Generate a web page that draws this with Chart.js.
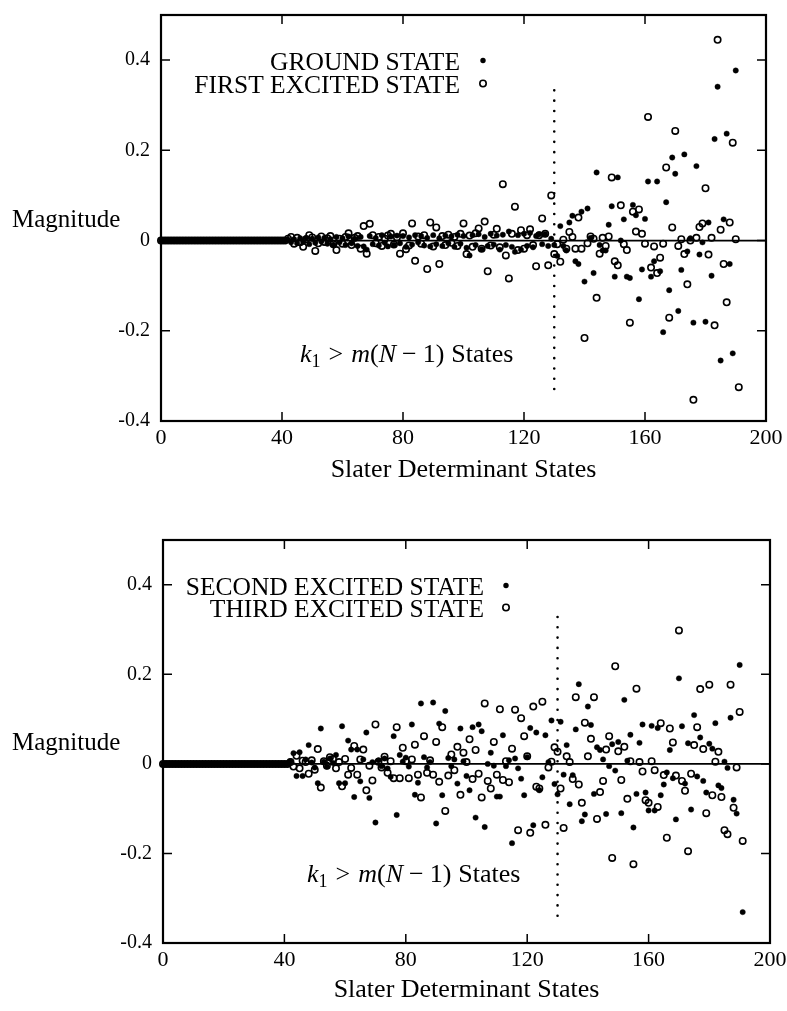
<!DOCTYPE html>
<html><head><meta charset="utf-8">
<script src="https://cdn.jsdelivr.net/npm/chart.js@4"></script>
<style>
html,body{margin:0;padding:0;background:#fff;}
canvas{position:absolute;left:0;}
#c1{top:0;}
#c2{top:505px;}
</style></head><body>
<canvas id="c1" width="787" height="505"></canvas>
<canvas id="c2" width="787" height="506"></canvas>
<script>
// ---------- DATA ----------
const xTicks = [0, 40, 80, 120, 160, 200];
const yTicks = [-0.4, -0.2, 0, 0.2, 0.4];
const xTitle = 'Slater Determinant States';
const yTitle = 'Magnitude';
const topLegend = ['GROUND STATE', 'FIRST EXCITED STATE'];
const bottomLegend = ['SECOND EXCITED STATE', 'THIRD EXCITED STATE'];
const cutoffState = [130, 130];
const cutoffRangeTop = [0.333, -0.347];
const cutoffRangeBottom = [0.328, -0.345];

// states 0..41: all amplitudes zero
const leadStates = [0,1,2,3,4,5,6,7,8,9,10,11,12,13,14,15,16,17,18,19,20,21,22,23,24,25,26,27,28,29,30,31,32,33,34,35,36,37,38,39,40,41];
const leadValues = [0,0,0,0,0,0,0,0,0,0,0,0,0,0,0,0,0,0,0,0,0,0,0,0,0,0,0,0,0,0,0,0,0,0,0,0,0,0,0,0,0,0];

const groundState = [[42,0.002],[43,-0.004],[44,0.003],[45,-0.006],[46,0.005],[47,-0.003],[48,0.006],[49,-0.008],[50,0.004],[51,-0.005],[52,0.007],[53,-0.002],[54,0.006],[55,-0.007],[56,0.003],[57,-0.009],[58,0.008],[59,-0.004],[60,0.005],[61,-0.010],[62,0.009],[63,-0.006],[64,0.004],[65,-0.012],[66,0.008],[67,-0.013],[68,-0.020],[69,0.010],[70,-0.008],[71,0.006],[72,-0.011],[73,0.012],[74,-0.005],[75,-0.013],[76,0.009],[77,-0.010],[78,0.011],[79,-0.006],[80,0.010],[81,-0.014],[82,0.007],[83,-0.009],[84,0.012],[85,-0.004],[86,0.010],[87,-0.011],[88,0.006],[89,-0.013],[90,0.012],[91,-0.008],[92,0.005],[93,-0.012],[94,0.011],[95,-0.006],[96,0.009],[97,-0.014],[98,0.013],[99,-0.007],[100,0.010],[101,-0.016],[102,-0.033],[103,0.012],[104,-0.010],[105,0.014],[106,-0.019],[107,0.008],[108,-0.012],[109,0.015],[110,-0.009],[111,0.011],[112,-0.020],[113,0.013],[114,-0.010],[115,0.020],[116,-0.014],[117,-0.025],[118,0.012],[119,-0.020],[120,0.015],[121,-0.012],[122,0.017],[123,-0.015],[124,0.010],[125,0.014],[126,-0.008],[127,0.014],[128,-0.012],[129,0.004],[130,-0.010],[131,-0.034],[132,0.032],[133,-0.012],[134,-0.022],[135,0.040],[136,0.055],[137,-0.046],[138,-0.052],[139,0.064],[140,-0.091],[141,0.071],[142,0.006],[143,-0.072],[144,0.151],[145,-0.010],[146,-0.022],[147,-0.022],[148,0.035],[149,0.076],[150,-0.080],[151,0.140],[152,0.000],[153,0.047],[154,-0.080],[155,-0.083],[156,0.079],[157,0.056],[158,-0.130],[159,-0.064],[160,0.048],[161,0.131],[162,-0.080],[163,-0.046],[164,0.131],[165,-0.068],[166,-0.203],[167,0.085],[168,-0.110],[169,0.184],[170,0.148],[171,-0.156],[172,-0.065],[173,0.191],[174,-0.024],[175,0.005],[176,-0.182],[177,0.165],[178,-0.031],[179,-0.004],[180,-0.180],[181,0.040],[182,-0.078],[183,0.225],[184,0.341],[185,-0.266],[186,0.047],[187,0.237],[188,-0.052],[189,-0.250],[190,0.377]];

const firstExcited = [[42,0.004],[43,0.008],[44,-0.007],[45,0.006],[46,-0.004],[47,-0.014],[48,0.003],[49,0.012],[50,0.007],[51,-0.023],[52,-0.006],[53,0.009],[54,-0.003],[55,0.005],[56,0.010],[57,-0.008],[58,-0.021],[59,0.004],[60,-0.007],[61,0.008],[62,0.016],[63,-0.010],[64,0.006],[65,0.010],[66,-0.018],[67,0.032],[68,-0.029],[69,0.037],[70,0.012],[71,-0.006],[72,0.008],[73,-0.012],[74,0.004],[75,0.011],[76,0.015],[77,-0.009],[78,0.007],[79,-0.029],[80,0.016],[81,-0.019],[82,-0.011],[83,0.038],[84,-0.045],[85,0.009],[86,-0.007],[87,0.012],[88,-0.063],[89,0.040],[90,-0.013],[91,0.029],[92,-0.052],[93,0.010],[94,-0.010],[95,0.013],[96,-0.005],[97,0.008],[98,-0.012],[99,0.015],[100,0.038],[101,-0.030],[102,0.011],[103,-0.014],[104,0.016],[105,0.027],[106,-0.018],[107,0.042],[108,-0.068],[109,-0.011],[110,0.013],[111,0.026],[112,-0.015],[113,0.125],[114,-0.033],[115,-0.084],[116,0.015],[117,0.075],[118,-0.021],[119,0.023],[120,-0.018],[121,0.012],[122,0.025],[123,-0.010],[124,-0.057],[125,0.012],[126,0.049],[127,0.015],[128,-0.055],[129,0.100],[130,-0.030],[131,-0.008],[132,-0.047],[133,0.002],[134,-0.018],[135,0.019],[136,0.008],[137,-0.018],[138,0.051],[139,-0.018],[140,-0.216],[141,-0.006],[142,0.009],[143,0.004],[144,-0.127],[145,-0.029],[146,0.006],[147,-0.012],[148,0.009],[149,0.140],[150,-0.046],[151,-0.055],[152,0.078],[153,-0.008],[154,-0.021],[155,-0.182],[156,0.064],[157,0.020],[158,0.069],[159,0.015],[160,-0.007],[161,0.274],[162,-0.060],[163,-0.013],[164,-0.072],[165,-0.038],[166,-0.007],[167,0.162],[168,-0.171],[169,0.029],[170,0.243],[171,-0.012],[172,0.003],[173,-0.030],[174,-0.097],[175,0.000],[176,-0.353],[177,0.006],[178,0.030],[179,0.038],[180,0.116],[181,-0.031],[182,0.006],[183,-0.188],[184,0.445],[185,0.024],[186,-0.052],[187,-0.137],[188,0.040],[189,0.217],[190,0.003],[191,-0.325]];

const secondExcited = [[42,0.006],[43,0.024],[44,-0.027],[45,0.026],[46,-0.027],[47,0.010],[48,0.042],[49,0.003],[50,-0.008],[51,-0.043],[52,0.079],[53,0.005],[54,-0.006],[55,0.012],[56,0.002],[57,0.020],[58,-0.043],[59,0.084],[60,-0.043],[61,0.052],[62,0.032],[63,-0.074],[64,0.032],[65,-0.039],[66,0.010],[67,0.070],[68,-0.076],[69,0.004],[70,-0.131],[71,0.008],[72,-0.005],[73,0.012],[74,-0.010],[75,-0.029],[76,0.062],[77,-0.114],[78,0.020],[79,0.005],[80,0.014],[81,-0.006],[82,0.088],[83,-0.069],[84,-0.042],[85,0.135],[86,0.015],[87,-0.008],[88,0.004],[89,0.137],[90,-0.133],[91,0.090],[92,-0.070],[93,0.118],[94,0.013],[95,-0.005],[96,0.010],[97,-0.044],[98,0.079],[99,0.006],[100,-0.027],[101,-0.059],[102,0.082],[103,-0.120],[104,0.088],[105,0.073],[106,-0.141],[107,0.000],[108,0.025],[109,-0.004],[110,-0.073],[111,-0.073],[112,0.064],[113,-0.005],[114,0.008],[115,-0.177],[116,0.012],[117,-0.010],[118,-0.033],[119,-0.070],[120,0.015],[121,0.080],[122,-0.137],[123,0.070],[124,-0.059],[125,-0.030],[126,0.064],[127,0.004],[128,0.097],[129,-0.045],[130,-0.068],[131,0.094],[132,-0.024],[133,0.042],[134,-0.090],[135,-0.025],[136,0.077],[137,0.178],[138,-0.128],[139,-0.113],[140,0.128],[141,0.087],[142,-0.067],[143,0.037],[144,0.031],[145,0.010],[146,-0.112],[147,-0.005],[148,0.044],[149,-0.015],[150,0.049],[151,-0.110],[152,0.143],[153,0.007],[154,0.065],[155,-0.142],[156,-0.067],[157,0.047],[158,0.088],[159,-0.064],[160,-0.104],[161,0.085],[162,-0.104],[163,0.080],[164,-0.070],[165,-0.046],[166,-0.019],[167,0.031],[168,-0.032],[169,-0.124],[170,0.191],[171,0.084],[172,-0.044],[173,0.046],[174,-0.102],[175,0.109],[176,-0.028],[177,0.059],[178,-0.038],[179,-0.064],[180,0.045],[181,0.034],[182,0.091],[183,-0.048],[184,-0.054],[185,0.005],[186,-0.009],[187,0.103],[188,-0.080],[189,-0.111],[190,0.221],[191,-0.331]];

const thirdExcited = [[42,0.004],[43,-0.006],[44,0.018],[45,-0.010],[46,0.007],[47,0.004],[48,-0.022],[49,0.008],[50,-0.013],[51,0.033],[52,-0.053],[53,0.006],[54,-0.004],[55,0.015],[56,0.011],[57,-0.010],[58,0.004],[59,-0.050],[60,0.011],[61,-0.024],[62,-0.009],[63,0.040],[64,-0.024],[65,0.010],[66,0.032],[67,-0.059],[68,-0.004],[69,-0.037],[70,0.088],[71,0.005],[72,-0.008],[73,0.016],[74,-0.020],[75,0.006],[76,-0.032],[77,0.082],[78,-0.032],[79,0.036],[80,0.006],[81,-0.032],[82,0.010],[83,0.043],[84,-0.024],[85,-0.075],[86,0.062],[87,-0.020],[88,0.008],[89,-0.024],[90,0.049],[91,-0.040],[92,0.082],[93,-0.105],[94,-0.026],[95,0.021],[96,-0.014],[97,0.038],[98,-0.069],[99,0.025],[100,0.004],[101,0.055],[102,-0.034],[103,0.031],[104,-0.022],[105,-0.075],[106,0.135],[107,-0.038],[108,-0.055],[109,0.049],[110,-0.024],[111,0.122],[112,-0.036],[113,0.006],[114,-0.041],[115,0.034],[116,0.121],[117,-0.148],[118,0.102],[119,0.062],[120,0.017],[121,-0.154],[122,0.128],[123,-0.051],[124,-0.055],[125,0.139],[126,-0.136],[127,-0.008],[128,0.005],[129,0.037],[130,0.027],[131,-0.055],[132,-0.143],[133,0.017],[134,0.004],[135,-0.034],[136,0.149],[137,-0.046],[138,-0.087],[139,0.092],[140,0.017],[141,0.056],[142,0.149],[143,-0.123],[144,-0.063],[145,-0.038],[146,0.032],[147,0.062],[148,-0.210],[149,0.218],[150,0.028],[151,-0.036],[152,0.038],[153,-0.078],[154,0.006],[155,-0.224],[156,0.168],[157,0.004],[158,-0.017],[159,-0.081],[160,-0.087],[161,0.006],[162,-0.014],[163,-0.096],[164,0.091],[165,-0.025],[166,-0.165],[167,0.079],[168,0.048],[169,-0.026],[170,0.298],[171,-0.038],[172,-0.060],[173,-0.195],[174,-0.022],[175,0.042],[176,0.082],[177,0.167],[178,0.033],[179,-0.110],[180,0.177],[181,-0.070],[182,0.005],[183,0.027],[184,-0.074],[185,-0.148],[186,-0.157],[187,0.177],[188,-0.098],[189,-0.008],[190,0.116],[191,-0.172]];

// ---------- RENDERING ----------
const FONT = '"Liberation Serif", "Times New Roman", serif';
const leadPoints = leadStates.map((s, i) => ({x: s, y: leadValues[i]}));
const toPoints = pairs => leadPoints.concat(pairs.map(([x, y]) => ({x, y})));

function filledSet(label, pairs) {
  return {label, data: toPoints(pairs), pointStyle: 'circle', pointRadius: 2.7,
    backgroundColor: '#000', borderColor: '#000', borderWidth: 0.4, clip: false, order: 1};
}
function openSet(label, pairs) {
  return {label, data: toPoints(pairs), pointStyle: 'circle', pointRadius: 3.2,
    backgroundColor: 'rgba(0,0,0,0)', borderColor: '#000', borderWidth: 1.6, clip: false, order: 2};
}
function cutoffSet(range) {
  return {label: 'cutoff', data: cutoffState.map((s, i) => ({x: s, y: range[i]})),
    showLine: true, pointRadius: 0, borderColor: '#000', borderWidth: 2.6,
    borderDash: [0, 10.3], borderCapStyle: 'round', clip: false, order: 3};
}

const decorPlugin = {
  id: 'decor',
  beforeDatasetsDraw(chart) {
    const {ctx, chartArea: a, scales: {y}} = chart;
    const y0 = y.getPixelForValue(0);
    ctx.save();
    ctx.strokeStyle = '#000'; ctx.lineWidth = 1.7;
    ctx.beginPath(); ctx.moveTo(a.left, y0); ctx.lineTo(a.right, y0); ctx.stroke();
    ctx.restore();
  },
  afterDraw(chart, args, o) {
    const {ctx, chartArea: a, scales: {x, y}} = chart;
    ctx.save();
    ctx.strokeStyle = '#000'; ctx.fillStyle = '#000';
    // frame
    ctx.lineWidth = 2.2;
    ctx.strokeRect(a.left, a.top, a.right - a.left, a.bottom - a.top);
    // inward ticks
    ctx.lineWidth = 1.5;
    const tl = 9;
    ctx.beginPath();
    xTicks.slice(1, -1).forEach(v => {
      const px = x.getPixelForValue(v);
      ctx.moveTo(px, a.bottom); ctx.lineTo(px, a.bottom - tl);
      ctx.moveTo(px, a.top); ctx.lineTo(px, a.top + tl);
    });
    yTicks.slice(1).forEach(v => {
      const py = y.getPixelForValue(v);
      ctx.moveTo(a.left, py); ctx.lineTo(a.left + tl, py);
      ctx.moveTo(a.right, py); ctx.lineTo(a.right - tl, py);
    });
    ctx.stroke();
    // y-axis title (horizontal)
    ctx.font = '25px ' + FONT;
    ctx.textAlign = 'left'; ctx.textBaseline = 'alphabetic';
    ctx.fillText(yTitle, 12, o.magBase);
    // legend
    ctx.font = '25.5px ' + FONT;
    ctx.textAlign = 'right';
    o.legend.forEach((t, i) => {
      const b = o.legBase[i];
      ctx.fillText(t, o.legRight, b);
      ctx.beginPath();
      if (i === 0) {
        ctx.arc(o.legMarker, b - 9.5, 2.7, 0, Math.PI * 2); ctx.fill();
      } else {
        ctx.lineWidth = 1.6;
        ctx.arc(o.legMarker, b - 9.5, 3.2, 0, Math.PI * 2); ctx.stroke();
      }
    });
    // annotation k1 > m(N - 1) States
    ctx.textAlign = 'left';
    let cx = o.noteX; const nb = o.noteBase; const fs = 26;
    const put = (txt, style, dy = 0, size = fs) => {
      ctx.font = `${style} ${size}px ${FONT}`;
      ctx.fillText(txt, cx, nb + dy);
      cx += ctx.measureText(txt).width;
    };
    put('k', 'italic');
    put('1', 'normal', 5, 18);
    cx += 8; put('>', 'normal'); cx += 8;
    put('m', 'italic'); put('(', 'normal'); put('N', 'italic');
    cx += 6; put('\u2212', 'normal'); cx += 6;
    put('1)', 'normal'); cx += 7; put('States', 'normal');
    ctx.restore();
  }
};

function makeChart(id, datasets, geo, decor) {
  return new Chart(document.getElementById(id), {
    type: 'scatter',
    data: {datasets},
    plugins: [decorPlugin],
    options: {
      responsive: false, animation: false, devicePixelRatio: 1, events: [],
      layout: {padding: {top: geo.top, right: geo.right, left: 0, bottom: 0}},
      plugins: {legend: {display: false}, tooltip: {enabled: false}, decor},
      scales: {
        x: {
          type: 'linear', min: 0, max: 200,
          afterBuildTicks: s => { s.ticks = xTicks.map(v => ({value: v})); },
          afterFit: s => { s.height = geo.xHeight; s.paddingLeft = 0; s.paddingRight = 0; },
          grid: {display: false, drawTicks: false}, border: {display: false},
          ticks: {padding: geo.xPad, color: '#000', font: {family: FONT, size: 22},
            maxRotation: 0, autoSkip: false, callback: v => String(v)},
          title: {display: true, text: xTitle, color: '#000',
            font: {family: FONT, size: 26}, padding: {top: 0, bottom: geo.titlePad}}
        },
        y: {
          type: 'linear', min: -0.4, max: 0.5,
          afterBuildTicks: s => { s.ticks = yTicks.map(v => ({value: v})); },
          afterFit: s => { s.width = geo.yWidth; s.paddingTop = 0; s.paddingBottom = 0; },
          grid: {display: false, drawTicks: false}, border: {display: false},
          ticks: {padding: 11, color: '#000', font: {family: FONT, size: 20},
            callback: v => String(Math.round(v * 10) / 10)}
        }
      }
    }
  });
}

makeChart('c1',
  [filledSet(topLegend[0], groundState), openSet(topLegend[1], firstExcited), cutoffSet(cutoffRangeTop)],
  {top: 15, right: 21, yWidth: 161, xHeight: 84, xPad: 4, titlePad: 19},
  {legend: topLegend, legRight: 460, legMarker: 483, legBase: [70, 93], magBase: 227, noteX: 300, noteBase: 362});

makeChart('c2',
  [filledSet(bottomLegend[0], secondExcited), openSet(bottomLegend[1], thirdExcited), cutoffSet(cutoffRangeBottom)],
  {top: 35, right: 17, yWidth: 163, xHeight: 68, xPad: 4, titlePad: 5},
  {legend: bottomLegend, legRight: 484, legMarker: 506, legBase: [90, 112], magBase: 245, noteX: 307, noteBase: 377});
</script>
</body></html>
